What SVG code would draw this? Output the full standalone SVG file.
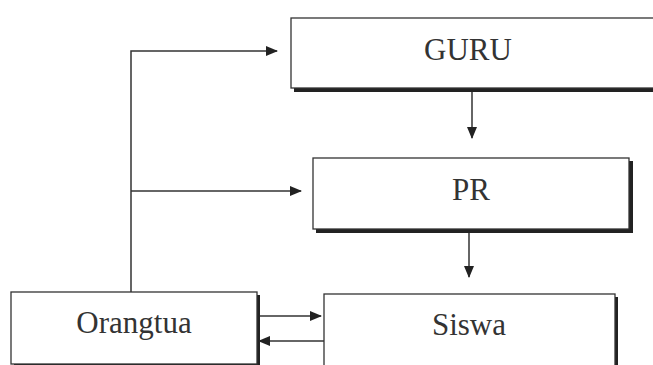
<svg xmlns="http://www.w3.org/2000/svg" width="653" height="365" viewBox="0 0 653 365">
<defs>
<marker id="ah" markerWidth="12" markerHeight="10" refX="11" refY="5" orient="auto" markerUnits="userSpaceOnUse">
<path d="M0,0 L12,5 L0,10 Z" fill="#222"/>
</marker>
<style>
.box{fill:#fff;stroke:#333;stroke-width:1.3}
.sh{fill:#222}
.lbl{font-family:"Liberation Serif","DejaVu Serif",serif;font-size:31px;fill:#333;text-anchor:middle}
.con{fill:none;stroke:#333;stroke-width:1.5}
</style>
</defs>
<rect width="653" height="365" fill="#fff"/>
<g id="guru">
<rect class="sh" x="294" y="87" width="362" height="5"/>
<rect class="box" x="291" y="18" width="366" height="70"/>
<text class="lbl" x="468" y="60">GURU</text>
</g>
<g id="pr">
<rect class="sh" x="316" y="161" width="317" height="72"/>
<rect class="box" x="313" y="158" width="316" height="71"/>
<text class="lbl" x="471" y="200">PR</text>
</g>
<g id="orangtua">
<rect class="sh" x="14" y="295" width="246" height="70"/>
<rect class="box" x="11" y="292" width="246" height="72"/>
<text class="lbl" x="134" y="333">Orangtua</text>
</g>
<g id="siswa">
<rect class="sh" x="326" y="297" width="292" height="68"/>
<rect class="box" x="324" y="294" width="291" height="72"/>
<text class="lbl" x="469" y="335">Siswa</text>
</g>
<g id="connectors">
<path class="con" d="M131,292 V51 H277" marker-end="url(#ah)"/>
<path class="con" d="M131,191 H301" marker-end="url(#ah)"/>
<path class="con" d="M472,92 V138" marker-end="url(#ah)"/>
<path class="con" d="M469,233 V277" marker-end="url(#ah)"/>
<path class="con" d="M260,316 H321" marker-end="url(#ah)"/>
<path class="con" d="M324,341 H259" marker-end="url(#ah)"/>
</g>
</svg>
